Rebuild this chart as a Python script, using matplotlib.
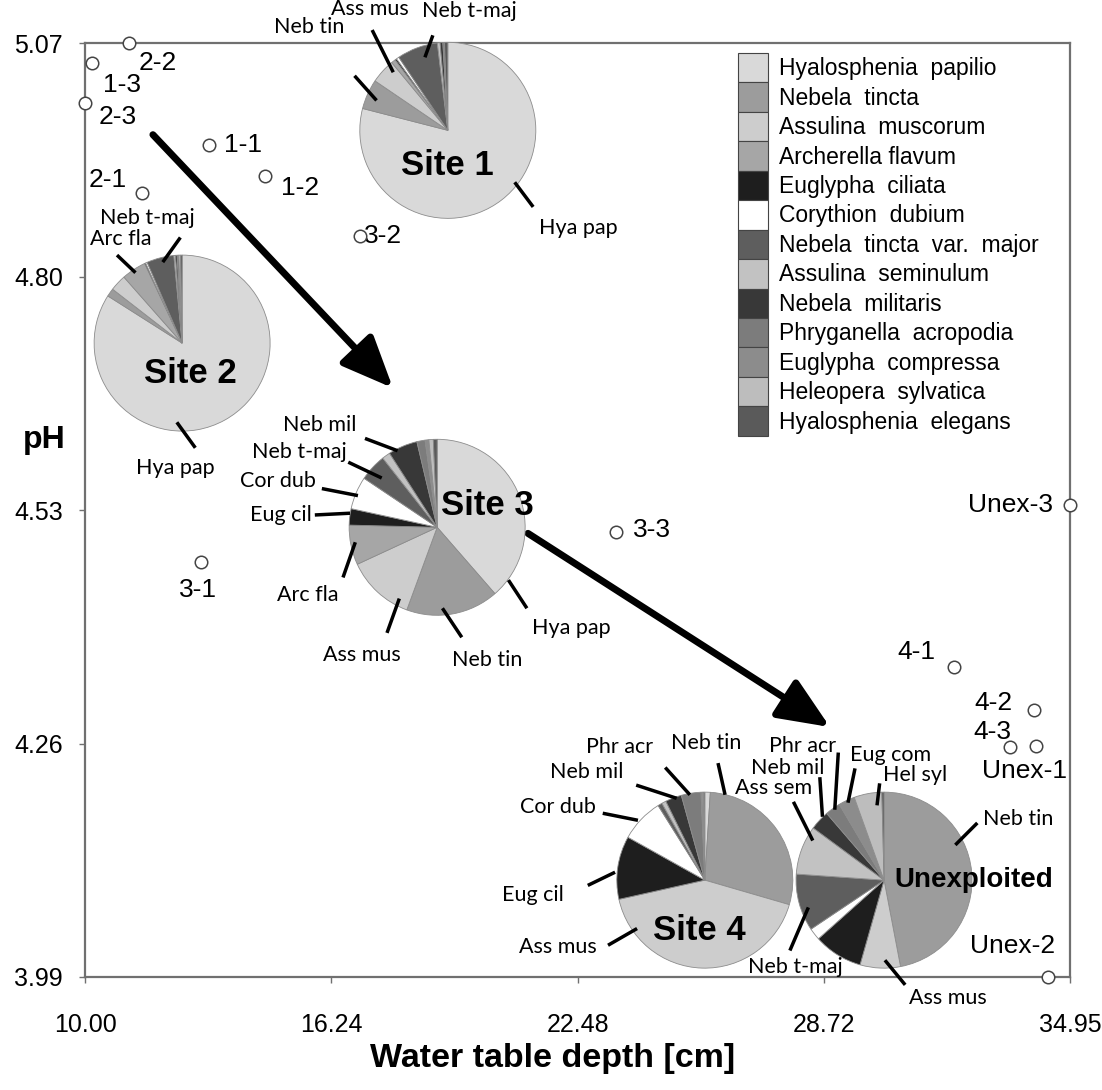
import matplotlib
matplotlib.use('Agg')
import matplotlib.pyplot as plt
from matplotlib.patches import Patch

plt.rcParams['font.family'] = ['Liberation Sans', 'DejaVu Sans']

# species (legend order = pie order, clockwise from 12 o'clock)
species = ['Hyalosphenia  papilio', 'Nebela  tincta', 'Assulina  muscorum',
           'Archerella flavum', 'Euglypha  ciliata', 'Corythion  dubium',
           'Nebela  tincta  var.  major', 'Assulina  seminulum', 'Nebela  militaris',
           'Phryganella  acropodia', 'Euglypha  compressa', 'Heleopera  sylvatica',
           'Hyalosphenia  elegans']
species_colors = ['#d9d9d9', '#9c9c9c', '#cdcdcd', '#a6a6a6', '#1e1e1e', '#ffffff',
                  '#5e5e5e', '#c2c2c2', '#383838', '#7c7c7c', '#8c8c8c', '#bdbdbd',
                  '#5a5a5a']

# relative abundances (%) per site, same order as species
site1 = [79, 5.5, 4.5, 0.8, 0.3, 0.5, 7.5, 0.5, 0.5, 0.3, 0, 0, 0.6]
site2 = [84, 1.5, 3, 4.5, 0.2, 0.3, 5, 0.3, 0.3, 0.3, 0, 0.3, 0.3]
site3 = [38.6, 17, 12.5, 7.3, 3, 6, 5, 1.5, 5.4, 1.5, 0.7, 0.8, 0.7]
site4 = [1, 28.5, 42, 0, 11.6, 8, 0.8, 0.8, 3, 3.6, 0.3, 0.2, 0.2]
unexploited = [0, 47, 7.4, 0, 9, 2.2, 10.5, 9, 3.6, 2.8, 3, 5.1, 0.4]

# sampling points: water table depth [cm] and pH
point_names = ['2-2', '1-3', '2-3', '1-1', '1-2', '2-1', '3-2', '3-1', '3-3',
               'Unex-3', '4-1', '4-2', '4-3', 'Unex-1', 'Unex-2']
wtd = [11.11, 10.18, 10.00, 13.14, 14.56, 11.44, 16.97, 12.94, 23.45,
       34.95, 32.01, 34.04, 33.43, 34.09, 34.39]
ph = [5.070, 5.047, 5.001, 4.952, 4.916, 4.897, 4.847, 4.470, 4.505,
      4.536, 4.348, 4.299, 4.256, 4.257, 3.990]

xticks = [10.00, 16.24, 22.48, 28.72, 34.95]
yticks = [3.99, 4.26, 4.53, 4.80, 5.07]

# ---- layout (label offsets in pixels, pie things in pie-radius units) ----
label_offsets = [(29, -20), (30, -22), (33, -14), (34, 0), (35, -12), (-34, 13),
                 (23, 0), (-3, -28), (36, 2), (-60, 0), (-38, 15), (-41, 7),
                 (-18, 15), (-12, -25), (-35, 31)]

PIE_R = 88  # pixels
pies = [
    ('Site 1', site1, (19.19, 4.969), (0.0, -0.40), 25, [
        ('Hya pap', (1.48, -1.11), (0.97, -0.87), (0.76, -0.59)),
        ('Neb tin', (-1.57, 1.17), (-1.06, 0.62), (-0.81, 0.34)),
        ('Ass mus', (-0.89, 1.38), (-0.86, 1.14), (-0.62, 0.66)),
        ('Neb t-maj', (0.25, 1.36), (-0.17, 1.08), (-0.26, 0.83))]),
    ('Site 2', site2, (12.46, 4.723), (0.09, -0.34), 25, [
        ('Hya pap', (-0.08, -1.42), (0.15, -1.19), (-0.06, -0.90)),
        ('Arc fla', (-0.70, 1.18), (-0.74, 1.00), (-0.53, 0.80)),
        ('Neb t-maj', (-0.39, 1.42), (-0.02, 1.20), (-0.22, 0.92))]),
    ('Site 3', site3, (18.92, 4.510), (0.57, 0.25), 25, [
        ('Hya pap', (1.53, -1.15), (1.02, -0.92), (0.81, -0.60)),
        ('Neb tin', (0.57, -1.51), (0.28, -1.25), (0.06, -0.92)),
        ('Ass mus', (-0.85, -1.45), (-0.57, -1.20), (-0.43, -0.81)),
        ('Arc fla', (-1.47, -0.77), (-1.07, -0.57), (-0.93, -0.17)),
        ('Eug cil', (-1.78, 0.14), (-1.39, 0.14), (-0.99, 0.16)),
        ('Cor dub', (-1.81, 0.53), (-1.31, 0.44), (-0.90, 0.36)),
        ('Neb t-maj', (-1.56, 0.85), (-1.01, 0.74), (-0.63, 0.56)),
        ('Neb mil', (-1.33, 1.16), (-0.82, 1.01), (-0.45, 0.87))]),
    ('Site 4', site4, (25.70, 4.102), (-0.06, -0.57), 25, [
        ('Neb tin', (0.02, 1.56), (0.15, 1.33), (0.23, 0.97)),
        ('Phr acr', (-0.97, 1.51), (-0.45, 1.28), (-0.17, 0.97)),
        ('Neb mil', (-1.34, 1.23), (-0.78, 1.08), (-0.32, 0.93)),
        ('Cor dub', (-1.67, 0.83), (-1.16, 0.76), (-0.76, 0.68)),
        ('Eug cil', (-1.95, -0.17), (-1.33, -0.06), (-1.02, 0.09)),
        ('Ass mus', (-1.67, -0.76), (-1.10, -0.74), (-0.77, -0.55))]),
    ('Unexploited', unexploited, (30.24, 4.102), (1.02, 0.0), 20, [
        ('Neb tin', (1.52, 0.70), (1.06, 0.65), (0.81, 0.40)),
        ('Ass mus', (0.72, -1.34), (0.24, -1.19), (0.01, -0.91)),
        ('Neb t-maj', (-1.01, -0.99), (-1.07, -0.80), (-0.86, -0.31)),
        ('Ass sem', (-1.26, 1.05), (-1.03, 0.89), (-0.81, 0.45)),
        ('Neb mil', (-1.10, 1.28), (-0.73, 1.17), (-0.70, 0.72)),
        ('Phr acr', (-0.93, 1.53), (-0.52, 1.45), (-0.56, 0.80)),
        ('Eug com', (0.07, 1.42), (-0.33, 1.27), (-0.41, 0.88)),
        ('Hel syl', (0.35, 1.19), (-0.05, 1.10), (-0.08, 0.85))]),
]

arrows = [((11.72, 4.964), (17.80, 4.671)),
          ((21.22, 4.503), (28.87, 4.279))]

W, H = 1102, 1090
fig = plt.figure(figsize=(W / 100, H / 100), dpi=100)
ax = fig.add_axes([85 / W, 1 - 977 / H, 985 / W, 934 / H])
ax.set_xlim(10.00, 34.95)
ax.set_ylim(3.99, 5.07)

for s in ax.spines.values():
    s.set_color('#707070')
    s.set_linewidth(1.6)
ax.set_xticks(xticks)
ax.set_xticklabels(['%.2f' % t for t in xticks])
ax.set_yticks(yticks)
ax.set_yticklabels(['%.2f' % t for t in yticks])
ax.tick_params(axis='both', direction='out', length=4, width=1, color='#707070',
               labelsize=18)
ax.tick_params(axis='x', pad=22)
ax.tick_params(axis='y', pad=12)

ax.set_xlabel('Water table depth [cm]', fontsize=24.5, fontweight='bold', va='center')
ax.xaxis.set_label_coords(0.475, -0.087)
ax.set_ylabel('pH', fontsize=23, fontweight='bold', rotation=0, va='center', ha='center')
ax.yaxis.set_label_coords(-0.041, 0.575)

# arrows
for start, end in arrows:
    ax.annotate('', xy=end, xytext=start,
                arrowprops=dict(arrowstyle='-|>,head_length=1.05,head_width=0.45',
                                mutation_scale=30, lw=5, color='black',
                                shrinkA=0, shrinkB=0))

# sampling points
ax.plot(wtd, ph, 'o', ms=9, mfc='white', mec='#444444', mew=1.1, clip_on=False, zorder=6)
for name, x, y, off in zip(point_names, wtd, ph, label_offsets):
    ax.annotate(name, (x, y), xytext=off, textcoords='offset pixels',
                ha='center', va='center', fontsize=19)

# pies as inset axes
fig.canvas.draw()
px_x = ax.bbox.width / (34.95 - 10.00)
px_y = ax.bbox.height / (5.07 - 3.99)
rx, ry = PIE_R / px_x, PIE_R / px_y
for title, vals, (cx, cy), tpos, tsize, labels in pies:
    pax = ax.inset_axes([cx - rx, cy - ry, 2 * rx, 2 * ry], transform=ax.transData)
    v = [val for val in vals if val > 0]
    c = [col for val, col in zip(vals, species_colors) if val > 0]
    pax.pie(v, colors=c, startangle=90, counterclock=False, radius=1,
            wedgeprops=dict(edgecolor='#8c8c8c', linewidth=0.6))
    pax.set_xlim(-1, 1)
    pax.set_ylim(-1, 1)
    for p in pax.patches:
        p.set_clip_on(False)
    pax.text(tpos[0], tpos[1], title, ha='center', va='center', fontsize=tsize,
             fontweight='bold')
    for lab, txy, l0, l1 in labels:
        pax.plot([l0[0], l1[0]], [l0[1], l1[1]], color='black', lw=2.5,
                 clip_on=False, solid_capstyle='butt')
        pax.text(txy[0], txy[1], lab, ha='center', va='center', fontsize=15.5,
                 family=['Lato', 'DejaVu Sans'])

# legend without frame, swatches stacked
handles = [Patch(facecolor=col, edgecolor='#444444', linewidth=0.8) for col in species_colors]
leg = ax.legend(handles, species, loc='upper left', bbox_to_anchor=(653 / 985, 1 - 10 / 934),
                frameon=False, fontsize=16.5, labelspacing=0, handlelength=1.3,
                handleheight=1.6, handletextpad=0.5, borderpad=0, borderaxespad=0)
leg.set_zorder(7)

fig.savefig('out.png', dpi=100)
